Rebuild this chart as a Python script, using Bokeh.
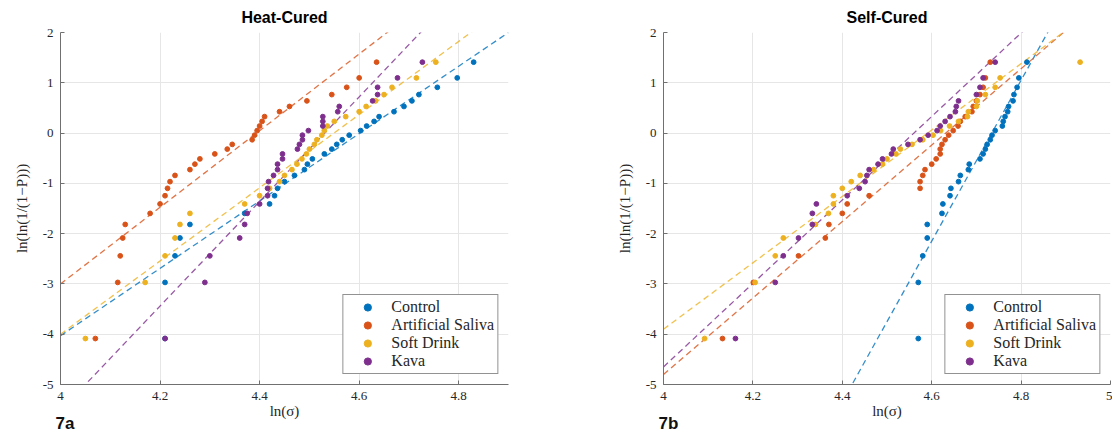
from bokeh.plotting import figure
from bokeh.layouts import row
from bokeh.models import Title, FixedTicker
from bokeh.embed import file_html
from bokeh.resources import INLINE

series = ["Control", "Artificial Saliva", "Soft Drink", "Kava"]
colors = ["#0072BD", "#D95319", "#EDB120", "#7E2F8E"]

# ln(ln(1/(1-P))) rank positions (30 specimens per group)
rank_y = [-4.086, -2.970, -2.442, -2.087, -1.817, -1.597, -1.410, -1.246, -1.099, -0.966,
          -0.842, -0.727, -0.618, -0.514, -0.415, -0.319, -0.225, -0.133, -0.042, 0.049,
          0.140, 0.232, 0.327, 0.425, 0.529, 0.640, 0.765, 0.910, 1.097, 1.410]

# Heat-Cured ln(sigma) values
heat_control = [4.21, 4.21, 4.23, 4.24, 4.26, 4.37, 4.42, 4.43, 4.436, 4.45,
                4.47, 4.49, 4.496, 4.506, 4.53, 4.545, 4.555, 4.566, 4.58, 4.603,
                4.615, 4.63, 4.64, 4.67, 4.69, 4.706, 4.72, 4.757, 4.797, 4.83]
heat_saliva = [4.07, 4.115, 4.12, 4.125, 4.13, 4.18, 4.20, 4.21, 4.215, 4.22,
               4.23, 4.26, 4.27, 4.28, 4.31, 4.335, 4.345, 4.385, 4.39, 4.395,
               4.40, 4.405, 4.41, 4.44, 4.46, 4.495, 4.545, 4.575, 4.60, 4.635]
heat_soft = [4.05, 4.17, 4.21, 4.23, 4.24, 4.26, 4.37, 4.40, 4.42, 4.44,
             4.45, 4.465, 4.475, 4.485, 4.494, 4.50, 4.51, 4.515, 4.525, 4.53,
             4.536, 4.55, 4.573, 4.60, 4.614, 4.633, 4.65, 4.666, 4.715, 4.754]
heat_kava = [4.21, 4.29, 4.30, 4.36, 4.37, 4.375, 4.40, 4.416, 4.416, 4.418,
             4.428, 4.436, 4.436, 4.446, 4.446, 4.476, 4.48, 4.486, 4.486, 4.498,
             4.527, 4.527, 4.527, 4.557, 4.56, 4.627, 4.637, 4.637, 4.677, 4.727]

# Self-Cured ln(sigma) values
self_control = [4.57, 4.57, 4.58, 4.59, 4.59, 4.623, 4.625, 4.641, 4.643, 4.66,
                4.664, 4.682, 4.684, 4.708, 4.715, 4.72, 4.724, 4.731, 4.735, 4.742,
                4.758, 4.76, 4.764, 4.77, 4.772, 4.782, 4.784, 4.791, 4.795, 4.813]
self_saliva = [4.132, 4.201, 4.302, 4.362, 4.37, 4.40, 4.411, 4.46, 4.574, 4.574,
               4.58, 4.585, 4.60, 4.61, 4.619, 4.619, 4.623, 4.63, 4.638, 4.648,
               4.659, 4.664, 4.675, 4.69, 4.693, 4.70, 4.708, 4.715, 4.72, 4.731]
self_soft = [4.092, 4.205, 4.25, 4.268, 4.34, 4.369, 4.38, 4.38, 4.40, 4.42,
             4.44, 4.47, 4.49, 4.50, 4.52, 4.53, 4.556, 4.58, 4.603, 4.62,
             4.64, 4.66, 4.68, 4.682, 4.70, 4.702, 4.72, 4.742, 4.753, 4.932]
self_kava = [4.161, 4.25, 4.268, 4.302, 4.333, 4.333, 4.342, 4.411, 4.438, 4.451,
             4.455, 4.46, 4.48, 4.49, 4.51, 4.514, 4.547, 4.574, 4.592, 4.612,
             4.619, 4.63, 4.641, 4.653, 4.655, 4.66, 4.70, 4.708, 4.715, 4.742]

# Weibull fit lines: y = slope * ln(sigma) + intercept
heat_slope = [6.7, 7.62, 7.28, 10.4]
heat_intercept = [-30.83, -33.48, -33.12, -47.12]
self_slope = [16.0, 7.6, 6.6, 8.3]
self_intercept = [-75.75, -35.2, -30.3, -37.85]

heat_x_ticks = [4, 4.2, 4.4, 4.6, 4.8]
heat_x_labels = ["4", "4.2", "4.4", "4.6", "4.8"]
self_x_ticks = [4, 4.2, 4.4, 4.6, 4.8, 5]
self_x_labels = ["4", "4.2", "4.4", "4.6", "4.8", "5"]
y_ticks = [-5, -4, -3, -2, -1, 0, 1, 2]
y_labels = ["-5", "-4", "-3", "-2", "-1", "0", "1", "2"]

SERIF = "Liberation Serif"
SANS = "Liberation Sans"


def make_panel(title, xs_list, slopes, intercepts, x_end, width, b_left, b_right,
               xticks, xlabels, tag):
    p = figure(width=width, height=432, x_range=(4, x_end), y_range=(-5, 2),
               output_backend="svg", toolbar_location=None, title=title,
               min_border_left=b_left, min_border_right=b_right,
               min_border_top=32, min_border_bottom=48)
    p.outline_line_color = None
    p.title.align = "center"
    p.title.vertical_align = "top"
    p.title.text_font = SANS
    p.title.text_font_style = "bold"
    p.title.text_font_size = "16px"
    p.title.text_color = "#000000"
    p.title.standoff = 10

    for i, (name, col) in enumerate(zip(series, colors)):
        xl = [4, x_end]
        yl = [slopes[i] * v + intercepts[i] for v in xl]
        p.line(xl, yl, line_color=col, line_width=1.3, line_dash="6 4", line_alpha=0.8)
    for i, (name, col) in enumerate(zip(series, colors)):
        p.scatter(xs_list[i], rank_y, size=4.8, fill_color=col, line_color=col,
                  legend_label=name)

    p.xaxis.ticker = FixedTicker(ticks=xticks)
    p.xaxis.major_label_overrides = dict(zip(xticks, xlabels))
    p.yaxis.ticker = FixedTicker(ticks=y_ticks)
    p.yaxis.major_label_overrides = dict(zip(y_ticks, y_labels))
    for ax in (p.xaxis[0], p.yaxis[0]):
        ax.axis_line_color = "#707070"
        ax.major_tick_line_color = "#707070"
        ax.major_tick_in = 4
        ax.major_tick_out = 0
        ax.minor_tick_line_color = None
        ax.major_label_text_font = SERIF
        ax.major_label_text_font_size = "13px"
        ax.major_label_text_color = "#262626"
        ax.axis_label_text_font = SERIF
        ax.axis_label_text_font_style = "normal"
        ax.axis_label_text_font_size = "15px"
        ax.axis_label_text_color = "#262626"
    p.xaxis.axis_label = "ln(σ)"
    p.xaxis.major_label_standoff = 7
    p.xaxis.axis_label_standoff = 0
    p.yaxis.axis_label = "ln(ln(1/(1−P)))"
    p.yaxis.major_label_standoff = 7
    p.yaxis.axis_label_standoff = 10

    p.xgrid.grid_line_color = "#e6e6e6"
    p.ygrid.grid_line_color = "#e6e6e6"

    lg = p.legend[0]
    lg.location = "bottom_right"
    lg.margin = 10
    lg.padding = 3
    lg.spacing = 0
    lg.glyph_width = 42
    lg.glyph_height = 18
    lg.label_height = 18
    lg.label_standoff = 3
    lg.label_text_font = SERIF
    lg.label_text_font_size = "16px"
    lg.label_text_color = "#262626"
    lg.border_line_color = "#262626"
    lg.border_line_width = 1
    lg.background_fill_alpha = 1.0

    tag_title = Title(text=tag, align="left", offset=-5, standoff=-19,
                      text_font=SANS, text_font_style="bold",
                      text_font_size="17px", text_color="#111111")
    p.add_layout(tag_title, "below")
    return p


p1 = make_panel("Heat-Cured", [heat_control, heat_saliva, heat_soft, heat_kava],
                heat_slope, heat_intercept, 4.9, 548, 60, 40,
                heat_x_ticks, heat_x_labels, "7a")
p2 = make_panel("Self-Cured", [self_control, self_saliva, self_soft, self_kava],
                self_slope, self_intercept, 5.0, 564, 115, 2,
                self_x_ticks, self_x_labels, "7b")

layout = row(p1, p2)
open("out.html", "w").write(file_html(layout, INLINE))
